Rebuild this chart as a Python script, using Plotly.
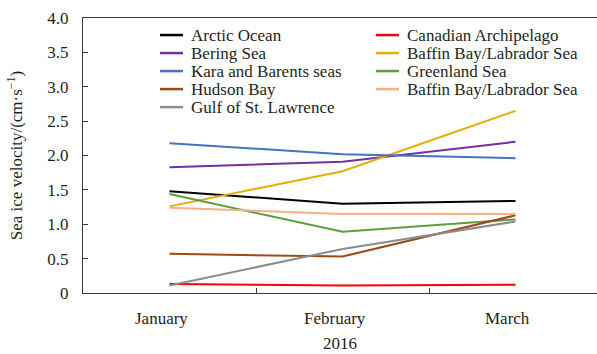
import plotly.graph_objects as go

months = ["January", "February", "March"]
year_label = "2016"

arctic_ocean = [1.48, 1.30, 1.34]
canadian_archipelago = [0.13, 0.11, 0.12]
bering_sea = [1.83, 1.91, 2.20]
baffin_labrador = [1.26, 1.77, 2.65]
kara_barents = [2.18, 2.02, 1.96]
greenland_sea = [1.44, 0.89, 1.07]
hudson_bay = [0.57, 0.53, 1.13]
baffin_labrador_2 = [1.24, 1.15, 1.15]
gulf_st_lawrence = [0.11, 0.64, 1.04]

y_ticks = [0, 0.5, 1.0, 1.5, 2.0, 2.5, 3.0, 3.5, 4.0]
y_tick_text = ["0", "0.5", "1.0", "1.5", "2.0", "2.5", "3.0", "3.5", "4.0"]

series = [
    ("Arctic Ocean", arctic_ocean, "#000000"),
    ("Canadian Archipelago", canadian_archipelago, "#ff0000"),
    ("Bering Sea", bering_sea, "#7030a0"),
    ("Baffin Bay/Labrador Sea", baffin_labrador, "#e6ac00"),
    ("Kara and Barents seas", kara_barents, "#4472c4"),
    ("Greenland Sea", greenland_sea, "#5b9f3a"),
    ("Hudson Bay", hudson_bay, "#9c4a17"),
    ("Baffin Bay/Labrador Sea", baffin_labrador_2, "#f6b08a"),
    ("Gulf of St. Lawrence", gulf_st_lawrence, "#8c8c8c"),
]

FONT = "Liberation Serif"
INK = "#231f20"
AXIS = "#3a3a3a"

fig = go.Figure()
x_pos = list(range(len(months)))
for name, vals, color in series:
    fig.add_trace(go.Scatter(
        x=x_pos, y=vals, mode="lines", name=name, showlegend=False,
        line=dict(color=color, width=2),
    ))

# two-column key, filled row by row in series order
col_x = [0.1498, 0.570]
row_top = 0.938
row_step = 0.0655
for k, (name, _, color) in enumerate(series):
    cx = col_x[k % 2]
    ry = row_top - (k // 2) * row_step
    fig.add_shape(
        type="line", xref="paper", yref="paper",
        xsizemode="pixel", xanchor=cx, x0=0, x1=23,
        y0=ry, y1=ry, line=dict(color=color, width=2.5),
    )
    fig.add_annotation(
        x=cx, y=ry, xref="paper", yref="paper", text=name, showarrow=False,
        xanchor="left", yanchor="middle", xshift=29,
        font=dict(family=FONT, size=17, color=INK),
    )

# month labels under each category
for i, m in enumerate(months):
    fig.add_annotation(
        x=i, y=0, xref="x", yref="paper", text=m, showarrow=False,
        xshift=-8, yshift=-25, yanchor="middle",
        font=dict(family=FONT, size=17, color=INK),
    )
fig.add_annotation(
    x=0.5, y=0, xref="paper", yref="paper", text=year_label, showarrow=False,
    yshift=-50, yanchor="middle",
    font=dict(family=FONT, size=17, color=INK),
)

fig.update_layout(
    width=597, height=354,
    margin=dict(l=83, r=0, t=18, b=61),
    paper_bgcolor="white", plot_bgcolor="white",
    font=dict(family=FONT, size=17, color=INK),
    showlegend=False,
    xaxis=dict(
        range=[-0.5, 2.471], showgrid=False, zeroline=False,
        showline=True, linecolor=AXIS, linewidth=1.2, mirror=True,
        tickvals=[0.5, 1.5], showticklabels=False, ticks="inside", ticklen=5,
        tickcolor=AXIS,
    ),
    yaxis=dict(
        range=[0, 4], showgrid=False, zeroline=False,
        showline=True, linecolor=AXIS, linewidth=1.2,
        tickvals=y_ticks, ticktext=y_tick_text, ticks="inside", ticklen=5,
        tickcolor=AXIS, ticklabelstandoff=10,
        title=dict(text="Sea ice velocity/(cm·s<sup>−1</sup>)", standoff=20,
                   font=dict(family=FONT, size=17, color=INK)),
    ),
)

fig.write_html("out.html")
